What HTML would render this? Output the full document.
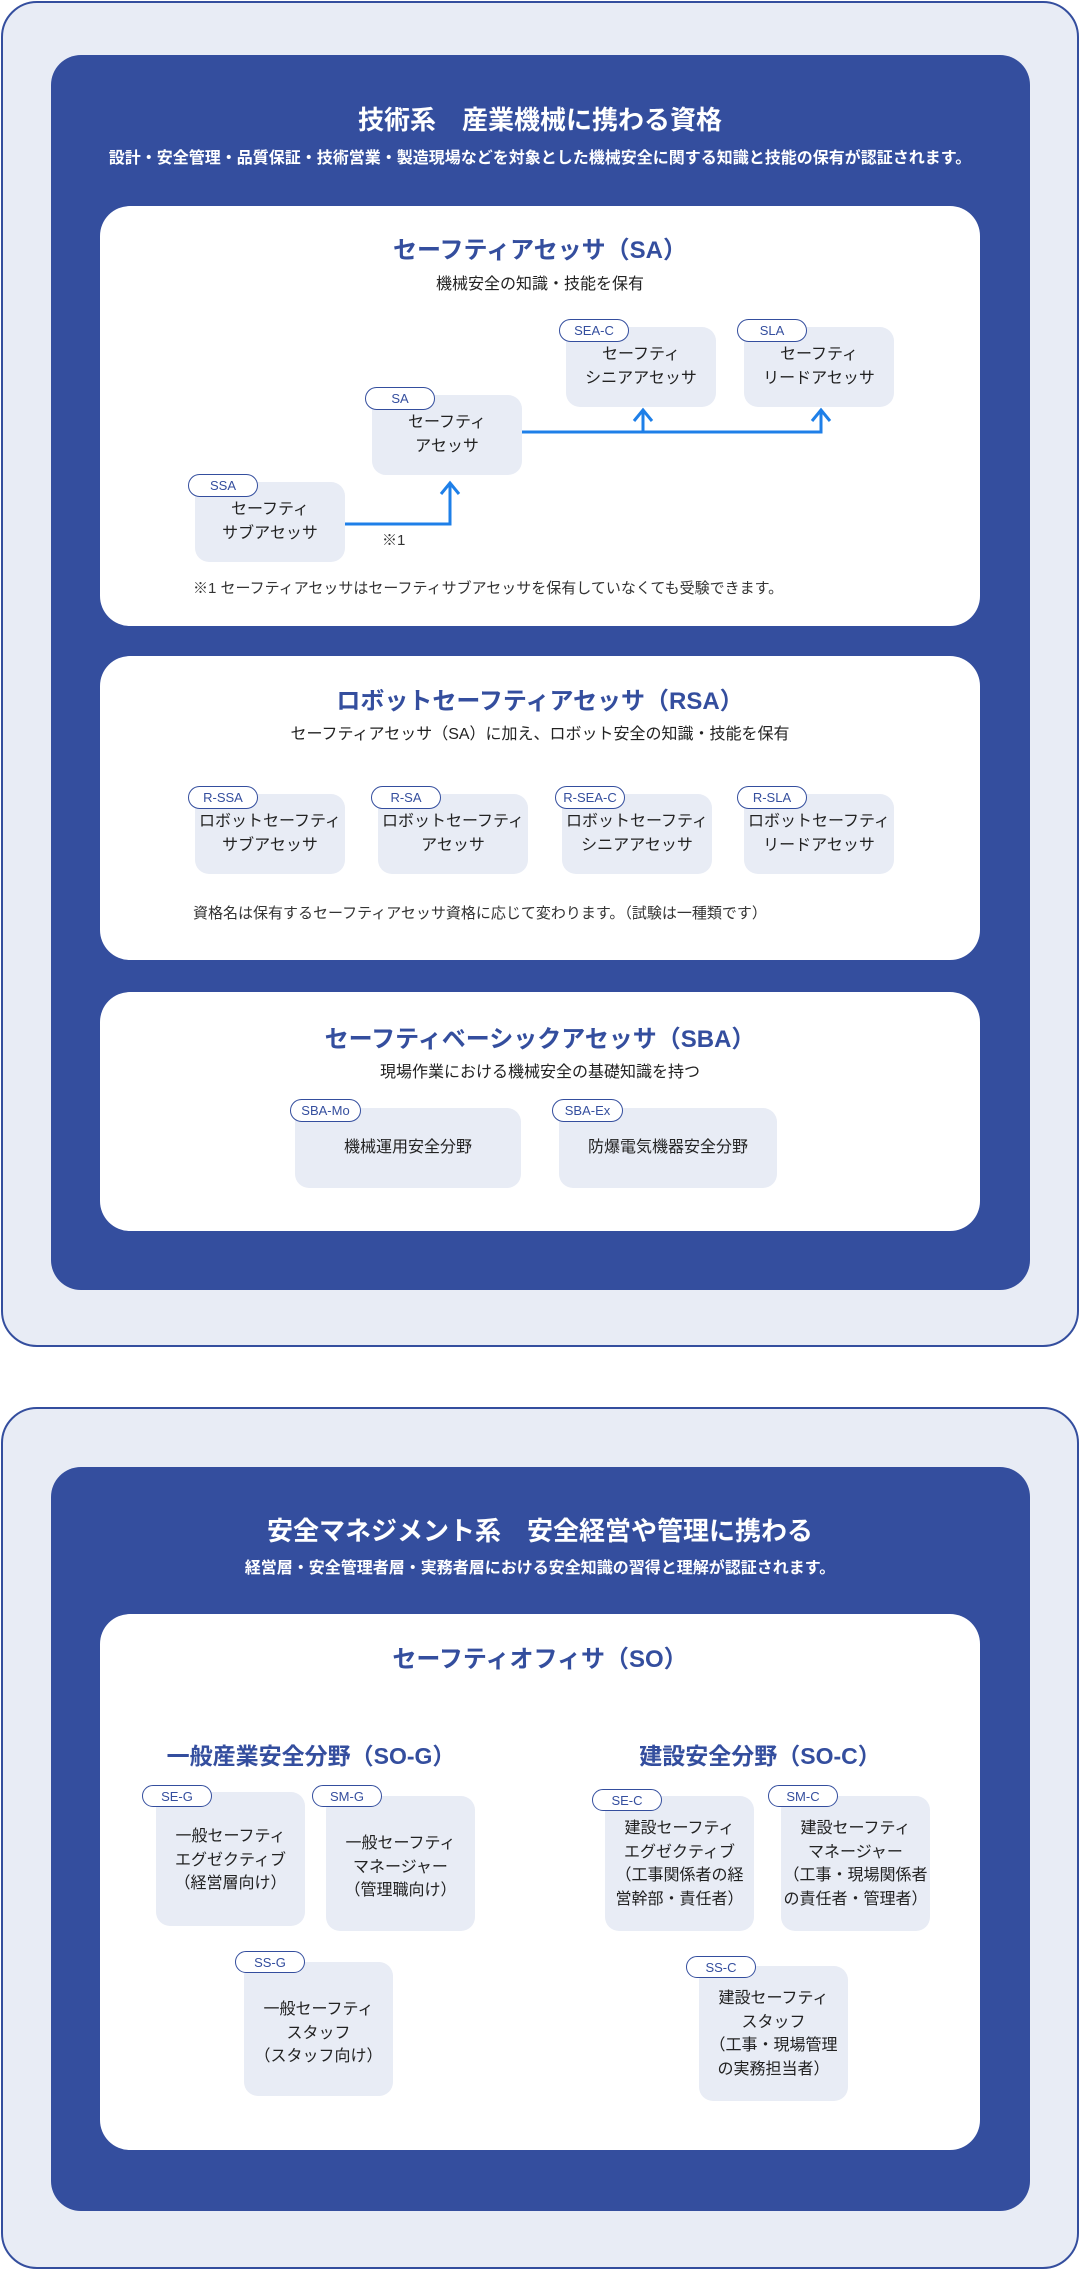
<!DOCTYPE html>
<html><head><meta charset="utf-8"><style>
*{margin:0;padding:0;box-sizing:border-box}
body{width:1080px;height:2271px;background:#fff;position:relative;font-family:"Liberation Sans","Noto Sans CJK JP",sans-serif;overflow:hidden}
.a{position:absolute}
.outer{background:#e8ecf5;border:2.5px solid #344e9e;border-radius:36px}
.panel{background:#344e9e;border-radius:30px}
.card{background:#fff;border-radius:30px}
.t{position:absolute;left:0;width:100%;text-align:center}
.h1{color:#fff;font-weight:bold;font-size:26px}
.h2{color:#fff;font-weight:bold;font-size:16px}
.ct{color:#344e9e;font-weight:bold;font-size:24px}
.cs{color:#222;font-size:16px}
.box{position:absolute;background:#e8ecf5;border-radius:14px;display:flex;align-items:center;justify-content:center;text-align:center;font-size:16px;line-height:24px;color:#222}
.pill{position:absolute;background:#fff;border:1.5px solid #344e9e;border-radius:12px;color:#344e9e;font-size:13px;display:flex;align-items:center;justify-content:center}
.note{position:absolute;font-size:15px;color:#333}
.sub{position:absolute;color:#344e9e;font-weight:bold;font-size:23px;text-align:center}
.bx2{position:absolute;background:#e8ecf5;border-radius:14px;text-align:center;font-size:16px;line-height:23.5px;color:#222;padding-top:33px}
</style></head><body>

<div class="a outer" style="left:1px;top:1px;width:1078px;height:1346px"></div>
<div class="a panel" style="left:51px;top:55px;width:979px;height:1235px"></div>
<div class="t h1" style="top:100px">技術系　産業機械に携わる資格</div>
<div class="t h2" style="top:144px">設計・安全管理・品質保証・技術営業・製造現場などを対象とした機械安全に関する知識と技能の保有が認証されます。</div>

<div class="a card" style="left:100px;top:206px;width:880px;height:420px"></div>
<div class="t ct" style="top:230px">セーフティアセッサ（SA）</div>
<div class="t cs" style="top:270px">機械安全の知識・技能を保有</div>

<svg class="a" style="left:0;top:0" width="1080" height="700">
<g stroke="#1e7fe8" stroke-width="3" fill="none">
<polyline points="345,524 450,524 450,484"/>
<polyline points="441,494 450,483 459,494"/>
<polyline points="521,432 821,432 821,411"/>
<line x1="643" y1="432" x2="643" y2="411"/>
<polyline points="634,421 643,410 652,421"/>
<polyline points="812,421 821,410 830,421"/>
</g></svg>

<div class="box" style="left:195px;top:482px;width:150px;height:80px">セーフティ<br>サブアセッサ</div>
<div class="pill" style="left:188px;top:474px;width:70px;height:23px">SSA</div>
<div class="box" style="left:372px;top:395px;width:150px;height:80px">セーフティ<br>アセッサ</div>
<div class="pill" style="left:365px;top:387px;width:70px;height:23px">SA</div>
<div class="box" style="left:566px;top:327px;width:150px;height:80px">セーフティ<br>シニアアセッサ</div>
<div class="pill" style="left:559px;top:319px;width:70px;height:23px">SEA-C</div>
<div class="box" style="left:744px;top:327px;width:150px;height:80px">セーフティ<br>リードアセッサ</div>
<div class="pill" style="left:737px;top:319px;width:70px;height:23px">SLA</div>
<div class="note" style="left:382px;top:529px">※1</div>
<div class="note" style="left:193px;top:577px">※1 セーフティアセッサはセーフティサブアセッサを保有していなくても受験できます。</div>

<div class="a card" style="left:100px;top:656px;width:880px;height:304px"></div>
<div class="t ct" style="top:681px">ロボットセーフティアセッサ（RSA）</div>
<div class="t cs" style="top:720px">セーフティアセッサ（SA）に加え、ロボット安全の知識・技能を保有</div>
<div class="box" style="left:195px;top:794px;width:150px;height:80px">ロボットセーフティ<br>サブアセッサ</div>
<div class="pill" style="left:188px;top:786px;width:70px;height:23px">R-SSA</div>
<div class="box" style="left:378px;top:794px;width:150px;height:80px">ロボットセーフティ<br>アセッサ</div>
<div class="pill" style="left:371px;top:786px;width:70px;height:23px">R-SA</div>
<div class="box" style="left:562px;top:794px;width:150px;height:80px">ロボットセーフティ<br>シニアアセッサ</div>
<div class="pill" style="left:555px;top:786px;width:70px;height:23px">R-SEA-C</div>
<div class="box" style="left:744px;top:794px;width:150px;height:80px">ロボットセーフティ<br>リードアセッサ</div>
<div class="pill" style="left:737px;top:786px;width:70px;height:23px">R-SLA</div>
<div class="note" style="left:193px;top:902px">資格名は保有するセーフティアセッサ資格に応じて変わります。（試験は一種類です）</div>

<div class="a card" style="left:100px;top:992px;width:880px;height:239px"></div>
<div class="t ct" style="top:1019px">セーフティベーシックアセッサ（SBA）</div>
<div class="t cs" style="top:1058px">現場作業における機械安全の基礎知識を持つ</div>
<div class="box" style="left:295px;top:1108px;width:226px;height:80px">機械運用安全分野</div>
<div class="pill" style="left:290px;top:1099px;width:71px;height:23px">SBA-Mo</div>
<div class="box" style="left:559px;top:1108px;width:218px;height:80px">防爆電気機器安全分野</div>
<div class="pill" style="left:552px;top:1099px;width:71px;height:23px">SBA-Ex</div>

<div class="a outer" style="left:1px;top:1407px;width:1078px;height:862px"></div>
<div class="a panel" style="left:51px;top:1467px;width:979px;height:744px"></div>
<div class="t h1" style="top:1511px">安全マネジメント系　安全経営や管理に携わる</div>
<div class="t h2" style="top:1554px">経営層・安全管理者層・実務者層における安全知識の習得と理解が認証されます。</div>

<div class="a card" style="left:100px;top:1614px;width:880px;height:536px"></div>
<div class="t ct" style="top:1639px">セーフティオフィサ（SO）</div>
<div class="sub" style="left:111px;width:400px;top:1737px">一般産業安全分野（SO-G）</div>
<div class="sub" style="left:560px;width:400px;top:1737px">建設安全分野（SO-C）</div>

<div class="bx2" style="left:156px;top:1792px;width:149px;height:134px">一般セーフティ<br>エグゼクティブ<br>（経営層向け）</div>
<div class="pill" style="left:142px;top:1785px;width:70px;height:22px">SE-G</div>
<div class="bx2" style="left:326px;top:1796px;width:149px;height:135px;padding-top:36px">一般セーフティ<br>マネージャー<br>（管理職向け）</div>
<div class="pill" style="left:312px;top:1785px;width:70px;height:22px">SM-G</div>
<div class="bx2" style="left:244px;top:1962px;width:149px;height:134px;padding-top:36px">一般セーフティ<br>スタッフ<br>（スタッフ向け）</div>
<div class="pill" style="left:235px;top:1951px;width:70px;height:22px">SS-G</div>
<div class="bx2" style="left:605px;top:1796px;width:149px;height:135px;padding-top:21px">建設セーフティ<br>エグゼクティブ<br>（工事関係者の経<br>営幹部・責任者）</div>
<div class="pill" style="left:592px;top:1789px;width:70px;height:22px">SE-C</div>
<div class="bx2" style="left:781px;top:1796px;width:149px;height:135px;padding-top:21px">建設セーフティ<br>マネージャー<br>（工事・現場関係者<br>の責任者・管理者）</div>
<div class="pill" style="left:768px;top:1785px;width:70px;height:22px">SM-C</div>
<div class="bx2" style="left:699px;top:1966px;width:149px;height:135px;padding-top:21px">建設セーフティ<br>スタッフ<br>（工事・現場管理<br>の実務担当者）</div>
<div class="pill" style="left:686px;top:1956px;width:70px;height:22px">SS-C</div>

</body></html>
